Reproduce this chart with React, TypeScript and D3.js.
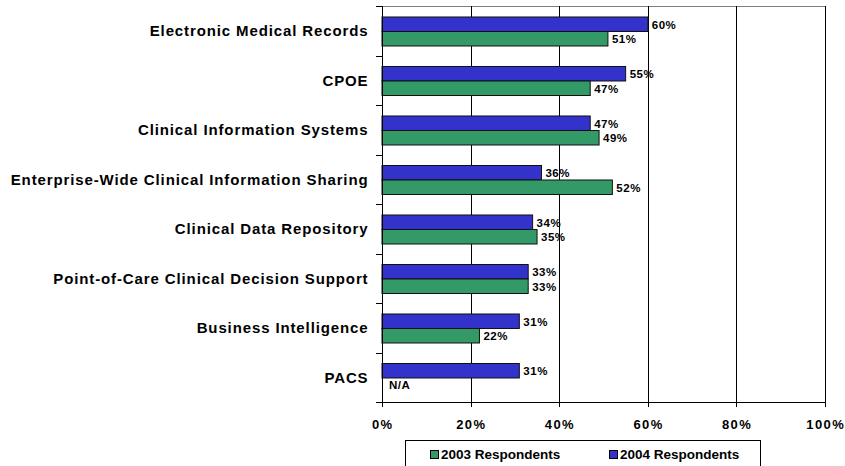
import * as d3 from 'd3';

const CATEGORIES = [
  'Electronic Medical Records',
  'CPOE',
  'Clinical Information Systems',
  'Enterprise-Wide Clinical Information Sharing',
  'Clinical Data Repository',
  'Point-of-Care Clinical Decision Support',
  'Business Intelligence',
  'PACS',
];
const VALUES_2004 = [60, 55, 47, 36, 34, 33, 31, 31];
const VALUES_2003: (number | null)[] = [51, 47, 49, 52, 35, 33, 22, null];
const X_TICKS = [0, 20, 40, 60, 80, 100];

const SERIES = [
  { key: '2004', label: '2004 Respondents', color: '#3333cc', values: VALUES_2004 },
  { key: '2003', label: '2003 Respondents', color: '#339966', values: VALUES_2003 },
];
const LEGEND_ORDER = ['2003', '2004'];

const W = 845;
const H = 466;
const FONT = 'Arial, "Liberation Sans", Helvetica, sans-serif';

export default function App() {
  const left = 382;
  const right = 825;
  const top = 6;
  const bottom = 402;

  const x = d3.scaleLinear().domain([0, 100]).range([left, right]);
  const y = d3.scaleBand().domain(CATEGORIES).range([top, bottom]);
  const step = y.step();
  // two bars per category, taking the middle ~59% of each band
  const inner = d3.scaleBand().domain(SERIES.map((s) => s.key)).range([step * 0.222, step * 0.808]);

  const boundaries = d3.range(CATEGORIES.length + 1).map((i) => top + i * step);

  return (
    <div style={{ position: 'absolute', left: 0, top: 0 }}>
      <svg width={W} height={H} style={{ display: 'block', background: '#fff' }} fontFamily={FONT}>
        {/* plot frame */}
        <line x1={left} x2={right} y1={top + 0.5} y2={top + 0.5} stroke="#808080" />
        <line x1={right + 0.5} x2={right + 0.5} y1={top} y2={bottom} stroke="#000" />

        {/* vertical grid */}
        {X_TICKS.filter((t) => t > 0 && t < 100).map((t) => (
          <line key={t} x1={Math.round(x(t)) + 0.5} x2={Math.round(x(t)) + 0.5} y1={top} y2={bottom} stroke="#000" />
        ))}

        {/* bars */}
        {SERIES.map((s) =>
          CATEGORIES.map((c, i) => {
            const v = s.values[i];
            const by = (y(c) ?? 0) + (inner(s.key) ?? 0);
            const bh = inner.bandwidth();
            if (v == null) {
              return (
                <text key={s.key + c} x={left + 7} y={by + bh / 2 + 4} fontSize={11.5} fontWeight="bold" letterSpacing={0.5} fill="#000">
                  N/A
                </text>
              );
            }
            return (
              <g key={s.key + c}>
                <rect x={left} y={by} width={x(v) - left} height={bh} fill={s.color} stroke="#111" strokeWidth={1} />
                <text x={x(v) + 4} y={by + bh / 2 + 4.5} fontSize={11.5} fontWeight="bold" letterSpacing={0.5} fill="#000">
                  {v}%
                </text>
              </g>
            );
          })
        )}

        {/* y axis */}
        <line x1={left + 0.5} x2={left + 0.5} y1={top} y2={bottom + 4} stroke="#000" />
        {boundaries.map((b, i) => (
          <line key={i} x1={left - 6} x2={left} y1={Math.round(b) + 0.5} y2={Math.round(b) + 0.5} stroke="#000" />
        ))}
        {CATEGORIES.map((c) => (
          <text
            key={c}
            x={368.5}
            y={(y(c) ?? 0) + step / 2 + 5.5}
            textAnchor="end"
            fontSize={15}
            fontWeight="bold"
            letterSpacing={0.88}
            fill="#000"
          >
            {c}
          </text>
        ))}

        {/* x axis */}
        <line x1={left} x2={right + 1} y1={bottom + 0.5} y2={bottom + 0.5} stroke="#000" />
        {X_TICKS.map((t) => (
          <g key={t}>
            <line x1={Math.round(x(t)) + 0.5} x2={Math.round(x(t)) + 0.5} y1={bottom} y2={bottom + 5} stroke="#000" />
            <text x={x(t) + 0.7} y={429} textAnchor="middle" fontSize={13} fontWeight="bold" letterSpacing={1.4} fill="#000">
              {t}%
            </text>
          </g>
        ))}

        {/* legend */}
        <rect x={405.5} y={440.5} width={355} height={40} fill="#fff" stroke="#000" />
        {LEGEND_ORDER.map((k, i) => {
          const s = SERIES.find((d) => d.key === k)!;
          const lx = 430 + i * 179;
          return (
            <g key={k}>
              <rect x={lx + 0.5} y={450.5} width={8} height={8} fill={s.color} stroke="#000" />
              <text x={lx + 11} y={458.7} fontSize={13.5} fontWeight="bold" fill="#000">
                {s.label}
              </text>
            </g>
          );
        })}
      </svg>
    </div>
  );
}
